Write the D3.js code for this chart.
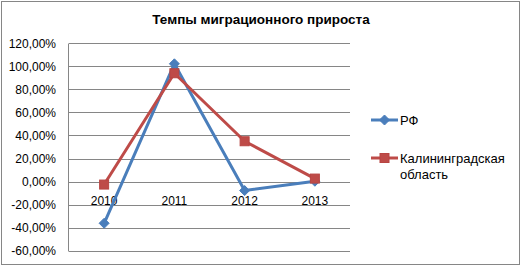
<!DOCTYPE html>
<html>
<head>
<meta charset="utf-8">
<script src="https://cdn.jsdelivr.net/npm/d3@7"></script>
<style>
  body { margin: 0; background: #fff; }
  text { font-family: "Liberation Sans", Arial, sans-serif; }
</style>
</head>
<body>
<div id="chart"></div>
<script>
var years = ["2010", "2011", "2012", "2013"];
var rfValues = [-36.2, 102.2, -7.8, 0.3];
var kalValues = [-2.6, 94.0, 35.0, 2.6];
var yTicks = [-60, -40, -20, 0, 20, 40, 60, 80, 100, 120];
var seriesNames = ["РФ", "Калининградская область"];

var width = 521, height = 266;
var svg = d3.select('#chart')
    .append('svg')
    .attr('width', width)
    .attr('height', height);

// outer frame
svg.append('rect')
    .attr('x', 1.5).attr('y', 1.5)
    .attr('width', width - 3).attr('height', height - 3)
    .attr('fill', '#fff')
    .attr('stroke', '#868686');

svg.append('text')
    .attr('x', 261).attr('y', 24)
    .attr('text-anchor', 'middle')
    .attr('font-size', 13.5)
    .attr('font-weight', 'bold')
    .text('Темпы миграционного прироста');

var x = d3.scaleBand().domain(years).range([69, 350]);
var y = d3.scaleLinear().domain([-60, 120]).range([250.7, 43.3]);

// gridlines
svg.append('g')
    .selectAll('line')
    .data(yTicks)
    .enter()
    .append('line')
    .attr('x1', 69).attr('x2', 350)
    .attr('y1', function(d) { return Math.round(y(d)) + 0.5; })
    .attr('y2', function(d) { return Math.round(y(d)) + 0.5; })
    .attr('stroke', '#868686');

svg.append('line')
    .attr('x1', 68.5).attr('x2', 68.5)
    .attr('y1', Math.round(y(120)) + 0.5).attr('y2', Math.round(y(-60)) + 0.5)
    .attr('stroke', '#868686');

// y axis labels
svg.append('g')
    .selectAll('text')
    .data(yTicks)
    .enter()
    .append('text')
    .attr('x', 56)
    .attr('y', function(d) { return y(d) + 4.5; })
    .attr('text-anchor', 'end')
    .attr('font-size', 12)
    .text(function(d) { return d.toFixed(2).replace('.', ',') + '%'; });

// x labels sit under the zero line
svg.append('g')
    .selectAll('text')
    .data(years)
    .enter()
    .append('text')
    .attr('x', function(d) { return x(d) + x.bandwidth() / 2; })
    .attr('y', y(0) + 23)
    .attr('text-anchor', 'middle')
    .attr('font-size', 12)
    .text(function(d) { return d; });

var line = d3.line()
    .x(function(d, i) { return x(years[i]) + x.bandwidth() / 2; })
    .y(function(d) { return y(d); });

var blue = '#4a7ebb', red = '#be4b48';

function drawDiamond(g, cx, cy, r) {
    g.append('path')
        .attr('d', 'M' + cx + ',' + (cy - r) + 'L' + (cx + r) + ',' + cy + 'L' + cx + ',' + (cy + r) + 'L' + (cx - r) + ',' + cy + 'Z')
        .attr('fill', blue)
        .attr('stroke', blue)
        .attr('stroke-width', 1);
}
function drawSquare(g, cx, cy, s) {
    g.append('rect')
        .attr('x', cx - s / 2).attr('y', cy - s / 2)
        .attr('width', s).attr('height', s)
        .attr('fill', red)
        .attr('stroke', '#b84542')
        .attr('stroke-width', 1);
}

var rfG = svg.append('g');
rfG.append('path')
    .datum(rfValues)
    .attr('d', line)
    .attr('fill', 'none')
    .attr('stroke', blue)
    .attr('stroke-width', 3)
    .attr('stroke-linejoin', 'round');
rfValues.forEach(function(v, i) {
    drawDiamond(rfG, x(years[i]) + x.bandwidth() / 2, y(v), 5);
});

var kalG = svg.append('g');
kalG.append('path')
    .datum(kalValues)
    .attr('d', line)
    .attr('fill', 'none')
    .attr('stroke', red)
    .attr('stroke-width', 3)
    .attr('stroke-linejoin', 'round');
kalValues.forEach(function(v, i) {
    drawSquare(kalG, x(years[i]) + x.bandwidth() / 2, y(v), 9);
});

// legend
var lg = svg.append('g');
lg.append('line').attr('x1', 371).attr('x2', 398).attr('y1', 120).attr('y2', 120)
    .attr('stroke', blue).attr('stroke-width', 3);
drawDiamond(lg, 384.5, 120, 5);
lg.append('text').attr('x', 400).attr('y', 125).attr('font-size', 13).text(seriesNames[0]);

lg.append('line').attr('x1', 371).attr('x2', 398).attr('y1', 158).attr('y2', 158)
    .attr('stroke', red).attr('stroke-width', 3);
drawSquare(lg, 384.5, 158, 9);
lg.append('text').attr('x', 400).attr('y', 163).attr('font-size', 13).text('Калининградская');
lg.append('text').attr('x', 400).attr('y', 179).attr('font-size', 13).text('область');
</script>
</body>
</html>
